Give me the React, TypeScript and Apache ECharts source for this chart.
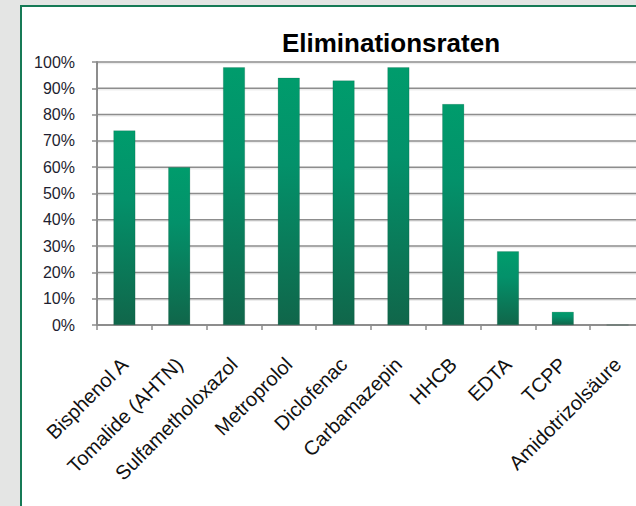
import React, { useEffect, useRef } from "react";
import * as echarts from "echarts";

// Elimination rate per substance, in percent
const substances = [
  "Bisphenol A",
  "Tomalide (AHTN)",
  "Sulfametholoxazol",
  "Metroprolol",
  "Diclofenac",
  "Carbamazepin",
  "HHCB",
  "EDTA",
  "TCPP",
  "Amidotrizolsäure",
];
const eliminationRates = [74, 60, 98, 94, 93, 98, 84, 28, 5, 0];
const yTicks = { min: 0, max: 100, interval: 10 };
// Horizontal gridline levels (percent)
const gridLevels = [10, 20, 30, 40, 50, 60, 70, 80, 90, 100];
const chartTitle = "Eliminationsraten";

const FONT = "'Liberation Sans', Arial, sans-serif";
const GRID_GRAY = "#8d8d8d";

// The plot runs a little past the right edge of the visible area,
// so the chart canvas is wider than the clipped frame around it.
const FRAME_W = 636;
const CANVAS_W = 650;
const PLOT_LEFT = 97;
const PLOT_RIGHT = 645;

export default function App() {
  const ref = useRef<HTMLDivElement>(null);

  useEffect(() => {
    if (!ref.current) return;
    const chart = echarts.init(ref.current, undefined, { renderer: "svg" });

    const barFill = new echarts.graphic.LinearGradient(0, 0, 0, 1, [
      { offset: 0, color: "#009c6c" },
      { offset: 0.35, color: "#03916a" },
      { offset: 1, color: "#10664a" },
    ]);

    chart.setOption({
      animation: false,
      graphic: [
        {
          type: "text",
          x: 391,
          y: 43,
          style: {
            text: chartTitle,
            font: `bold 26px ${FONT}`,
            fill: "#000000",
            textAlign: "center",
            textVerticalAlign: "middle",
          },
        },
      ],
      grid: { left: PLOT_LEFT, right: CANVAS_W - PLOT_RIGHT, top: 62, bottom: 181 },
      xAxis: {
        type: "category",
        data: substances,
        boundaryGap: true,
        axisLine: { show: true, lineStyle: { color: GRID_GRAY, width: 2 } },
        axisTick: {
          show: true,
          alignWithLabel: false,
          length: 5,
          lineStyle: { color: GRID_GRAY, width: 1.5 },
        },
        axisLabel: {
          interval: 0,
          rotate: 45,
          margin: 36,
          fontFamily: FONT,
          fontSize: 20,
          color: "#111111",
        },
        splitLine: { show: false },
      },
      yAxis: {
        type: "value",
        min: yTicks.min,
        max: yTicks.max,
        interval: yTicks.interval,
        axisLine: { show: true, lineStyle: { color: GRID_GRAY, width: 2 } },
        axisTick: { show: true, length: 5, lineStyle: { color: GRID_GRAY, width: 1.5 } },
        axisLabel: {
          formatter: "{value}%",
          margin: 22,
          fontFamily: FONT,
          fontSize: 16,
          color: "#1e1e30",
        },
        splitLine: { show: false },
      },
      series: [
        // Horizontal gridlines, placed through the value axis scale
        {
          type: "custom",
          silent: true,
          data: gridLevels.map((v) => [0, v]),
          encode: { x: 0, y: 1 },
          renderItem: (params: any, api: any) => {
            const cs = params.coordSys;
            const y = api.coord([0, api.value(1)])[1];
            return {
              type: "group",
              children: [
                {
                  type: "line",
                  shape: { x1: cs.x, y1: y + 1.5, x2: cs.x + cs.width, y2: y + 1.5 },
                  style: { stroke: "rgba(0,0,0,0.07)", lineWidth: 1.5 },
                },
                {
                  type: "line",
                  shape: { x1: cs.x, y1: y, x2: cs.x + cs.width, y2: y },
                  style: { stroke: GRID_GRAY, lineWidth: 1.5 },
                },
              ],
            };
          },
        },
        {
          type: "bar",
          data: eliminationRates,
          barWidth: "40%",
          itemStyle: {
            color: barFill,
            borderColor: "rgba(0,70,45,0.35)",
            borderWidth: 0.5,
          },
        },
      ],
    });

    return () => chart.dispose();
  }, []);

  // Gray page with a white, green-edged panel behind the chart
  return (
    <div
      style={{
        position: "fixed",
        left: 0,
        top: 0,
        width: FRAME_W,
        height: 506,
        overflow: "hidden",
        background: "#e4e5e4",
      }}
    >
      <div
        style={{
          position: "absolute",
          left: 20,
          top: 5,
          width: 700,
          height: 600,
          background: "#ffffff",
          borderLeft: "2px solid #167a56",
          borderTop: "2px solid #167a56",
        }}
      />
      <div
        ref={ref}
        style={{ position: "absolute", left: 0, top: 0, width: CANVAS_W, height: 506 }}
      />
    </div>
  );
}
